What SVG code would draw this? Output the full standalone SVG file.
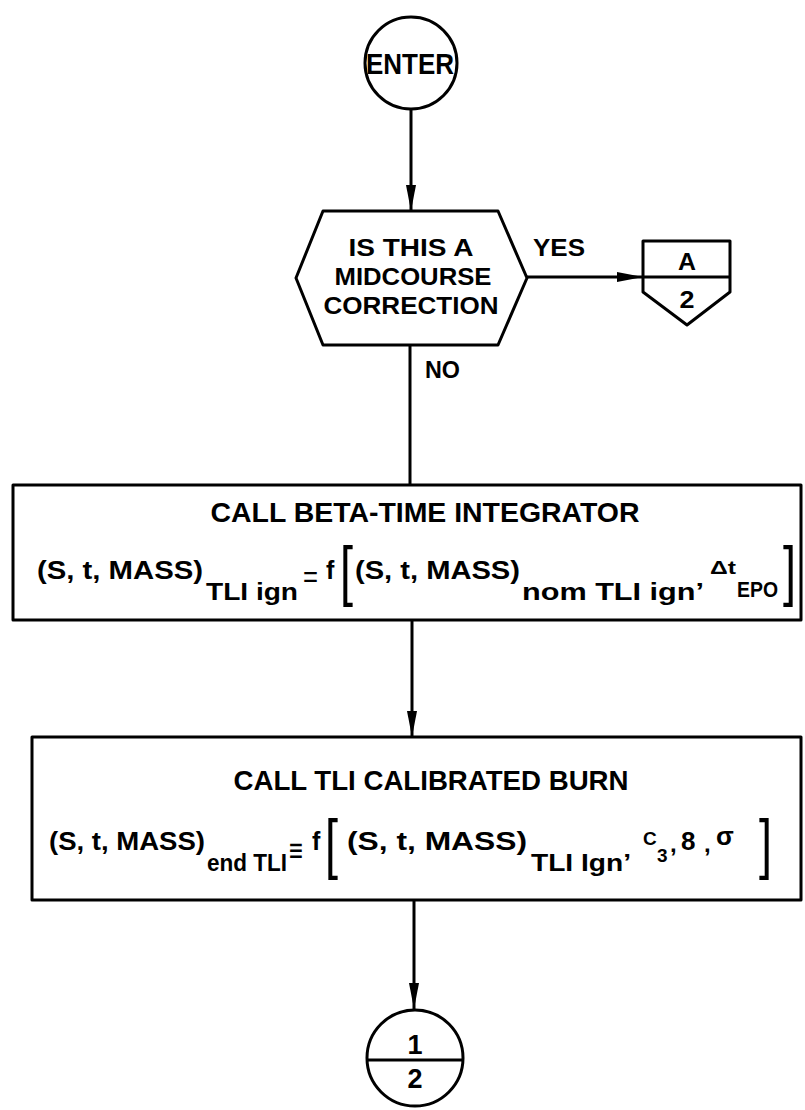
<svg xmlns="http://www.w3.org/2000/svg" width="805" height="1110" viewBox="0 0 805 1110">
  <style>
    .shape { fill: none; stroke: #000; stroke-width: 3; stroke-linejoin: round; }
    .line { fill: none; stroke: #000; stroke-width: 3; }
    .t { font-family: "Liberation Sans", Arial, sans-serif; font-weight: bold; fill: #000; }
    .mid { text-anchor: middle; }
    .br { font-family: "Liberation Sans", Arial, sans-serif; font-weight: normal; fill: #000; }
  </style>
  <defs>
    <marker id="arrow" viewBox="0 0 26 10" refX="26" refY="5" markerWidth="26" markerHeight="10" markerUnits="userSpaceOnUse" orient="auto">
      <path d="M0,0 L26,5 L0,10 z" fill="#000"/>
    </marker>
  </defs>

  <!-- connectors -->
  <g id="connectors">
    <line class="line" x1="411" y1="109" x2="411" y2="211" marker-end="url(#arrow)"/>
    <line class="line" x1="527" y1="277" x2="643" y2="277" marker-end="url(#arrow)"/>
    <line class="line" x1="410" y1="345" x2="410" y2="485"/>
    <line class="line" x1="412" y1="620" x2="412" y2="737" marker-end="url(#arrow)"/>
    <line class="line" x1="414" y1="900" x2="414" y2="1009" marker-end="url(#arrow)"/>
    <text class="t" x="533" y="256" font-size="23" textLength="52" lengthAdjust="spacingAndGlyphs">YES</text>
    <text class="t" x="425" y="378" font-size="23" textLength="35" lengthAdjust="spacingAndGlyphs">NO</text>
  </g>

  <!-- entry terminal -->
  <g id="enter">
    <circle class="shape" cx="411" cy="63" r="46"/>
    <text class="t mid" x="410" y="74" font-size="29" textLength="88" lengthAdjust="spacingAndGlyphs">ENTER</text>
  </g>

  <!-- decision -->
  <g id="midcourse-decision">
    <polygon class="shape" points="296,278 323,211 498,211 527,278 498,345 323,345"/>
    <text class="t mid" x="411" y="256" font-size="24" textLength="125" lengthAdjust="spacingAndGlyphs">IS THIS A</text>
    <text class="t mid" x="413" y="285" font-size="24" textLength="157" lengthAdjust="spacingAndGlyphs">MIDCOURSE</text>
    <text class="t mid" x="411" y="314" font-size="24" textLength="175" lengthAdjust="spacingAndGlyphs">CORRECTION</text>
  </g>

  <!-- off-page connector A / 2 -->
  <g id="offpage-a2">
    <path class="shape" d="M643,241 H730 V292 L687,325 L643,292 Z"/>
    <line class="line" x1="643" y1="277" x2="730" y2="277"/>
    <text class="t mid" x="687" y="270" font-size="23" textLength="18" lengthAdjust="spacingAndGlyphs">A</text>
    <text class="t mid" x="687" y="308" font-size="24" textLength="15" lengthAdjust="spacingAndGlyphs">2</text>
  </g>

  <!-- process: beta-time integrator -->
  <g id="beta-time-integrator">
    <rect class="shape" x="13" y="485" width="788" height="135"/>
    <text class="t mid" x="425" y="522" font-size="28" textLength="429" lengthAdjust="spacingAndGlyphs">CALL BETA-TIME INTEGRATOR</text>
    <text class="t" x="37" y="579" font-size="25" textLength="166" lengthAdjust="spacingAndGlyphs">(S, t, MASS)</text>
    <text class="t" x="206" y="600" font-size="24" textLength="92" lengthAdjust="spacingAndGlyphs">TLI ign</text>
    <text class="br" x="303" y="587" font-size="30" textLength="15" lengthAdjust="spacingAndGlyphs">=</text>
    <text class="t" x="326" y="579" font-size="25">f</text>
    <text class="br" x="340" y="593" font-size="66" textLength="13" lengthAdjust="spacingAndGlyphs">[</text>
    <text class="t" x="355" y="579" font-size="25" textLength="165" lengthAdjust="spacingAndGlyphs">(S, t, MASS)</text>
    <text class="t" x="522" y="600" font-size="24" textLength="182" lengthAdjust="spacingAndGlyphs">nom TLI ign’</text>
    <text class="t" x="710" y="574" font-size="19" textLength="26" lengthAdjust="spacingAndGlyphs">Δt</text>
    <text class="t" x="737" y="597" font-size="22" textLength="41" lengthAdjust="spacingAndGlyphs">EPO</text>
    <text class="br" x="783" y="593" font-size="66" textLength="13" lengthAdjust="spacingAndGlyphs">]</text>
  </g>

  <!-- process: TLI calibrated burn -->
  <g id="tli-calibrated-burn">
    <rect class="shape" x="32" y="737" width="769" height="163"/>
    <text class="t mid" x="431" y="790" font-size="28" textLength="395" lengthAdjust="spacingAndGlyphs">CALL TLI CALIBRATED BURN</text>
    <text class="t" x="49" y="850" font-size="25" textLength="156" lengthAdjust="spacingAndGlyphs">(S, t, MASS)</text>
    <text class="t" x="207" y="871" font-size="24" textLength="80" lengthAdjust="spacingAndGlyphs">end TLI</text>
    <text class="br" x="289" y="862" font-size="34" textLength="14" lengthAdjust="spacingAndGlyphs">≡</text>
    <text class="t" x="312" y="850" font-size="25">f</text>
    <text class="br" x="325" y="866" font-size="66" textLength="13" lengthAdjust="spacingAndGlyphs">[</text>
    <text class="t" x="347" y="850" font-size="25" textLength="180" lengthAdjust="spacingAndGlyphs">(S, t, MASS)</text>
    <text class="t" x="531" y="871" font-size="24" textLength="100" lengthAdjust="spacingAndGlyphs">TLI Ign’</text>
    <text class="t" x="643" y="845" font-size="19">C</text>
    <text class="t" x="657" y="862" font-size="19">3</text>
    <text class="t" x="670" y="852" font-size="24">,</text>
    <text class="t" x="681" y="850" font-size="26">8</text>
    <text class="t" x="704" y="852" font-size="24">,</text>
    <text class="t" x="716" y="845" font-size="26">σ</text>
    <text class="br" x="759" y="866" font-size="66" textLength="13" lengthAdjust="spacingAndGlyphs">]</text>
  </g>

  <!-- on-page connector 1 / 2 -->
  <g id="connector-1-2">
    <circle class="shape" cx="415" cy="1058" r="48"/>
    <line class="line" x1="367" y1="1060" x2="463" y2="1060"/>
    <text class="t mid" x="415" y="1054" font-size="27">1</text>
    <text class="t mid" x="415" y="1088" font-size="27">2</text>
  </g>
</svg>
